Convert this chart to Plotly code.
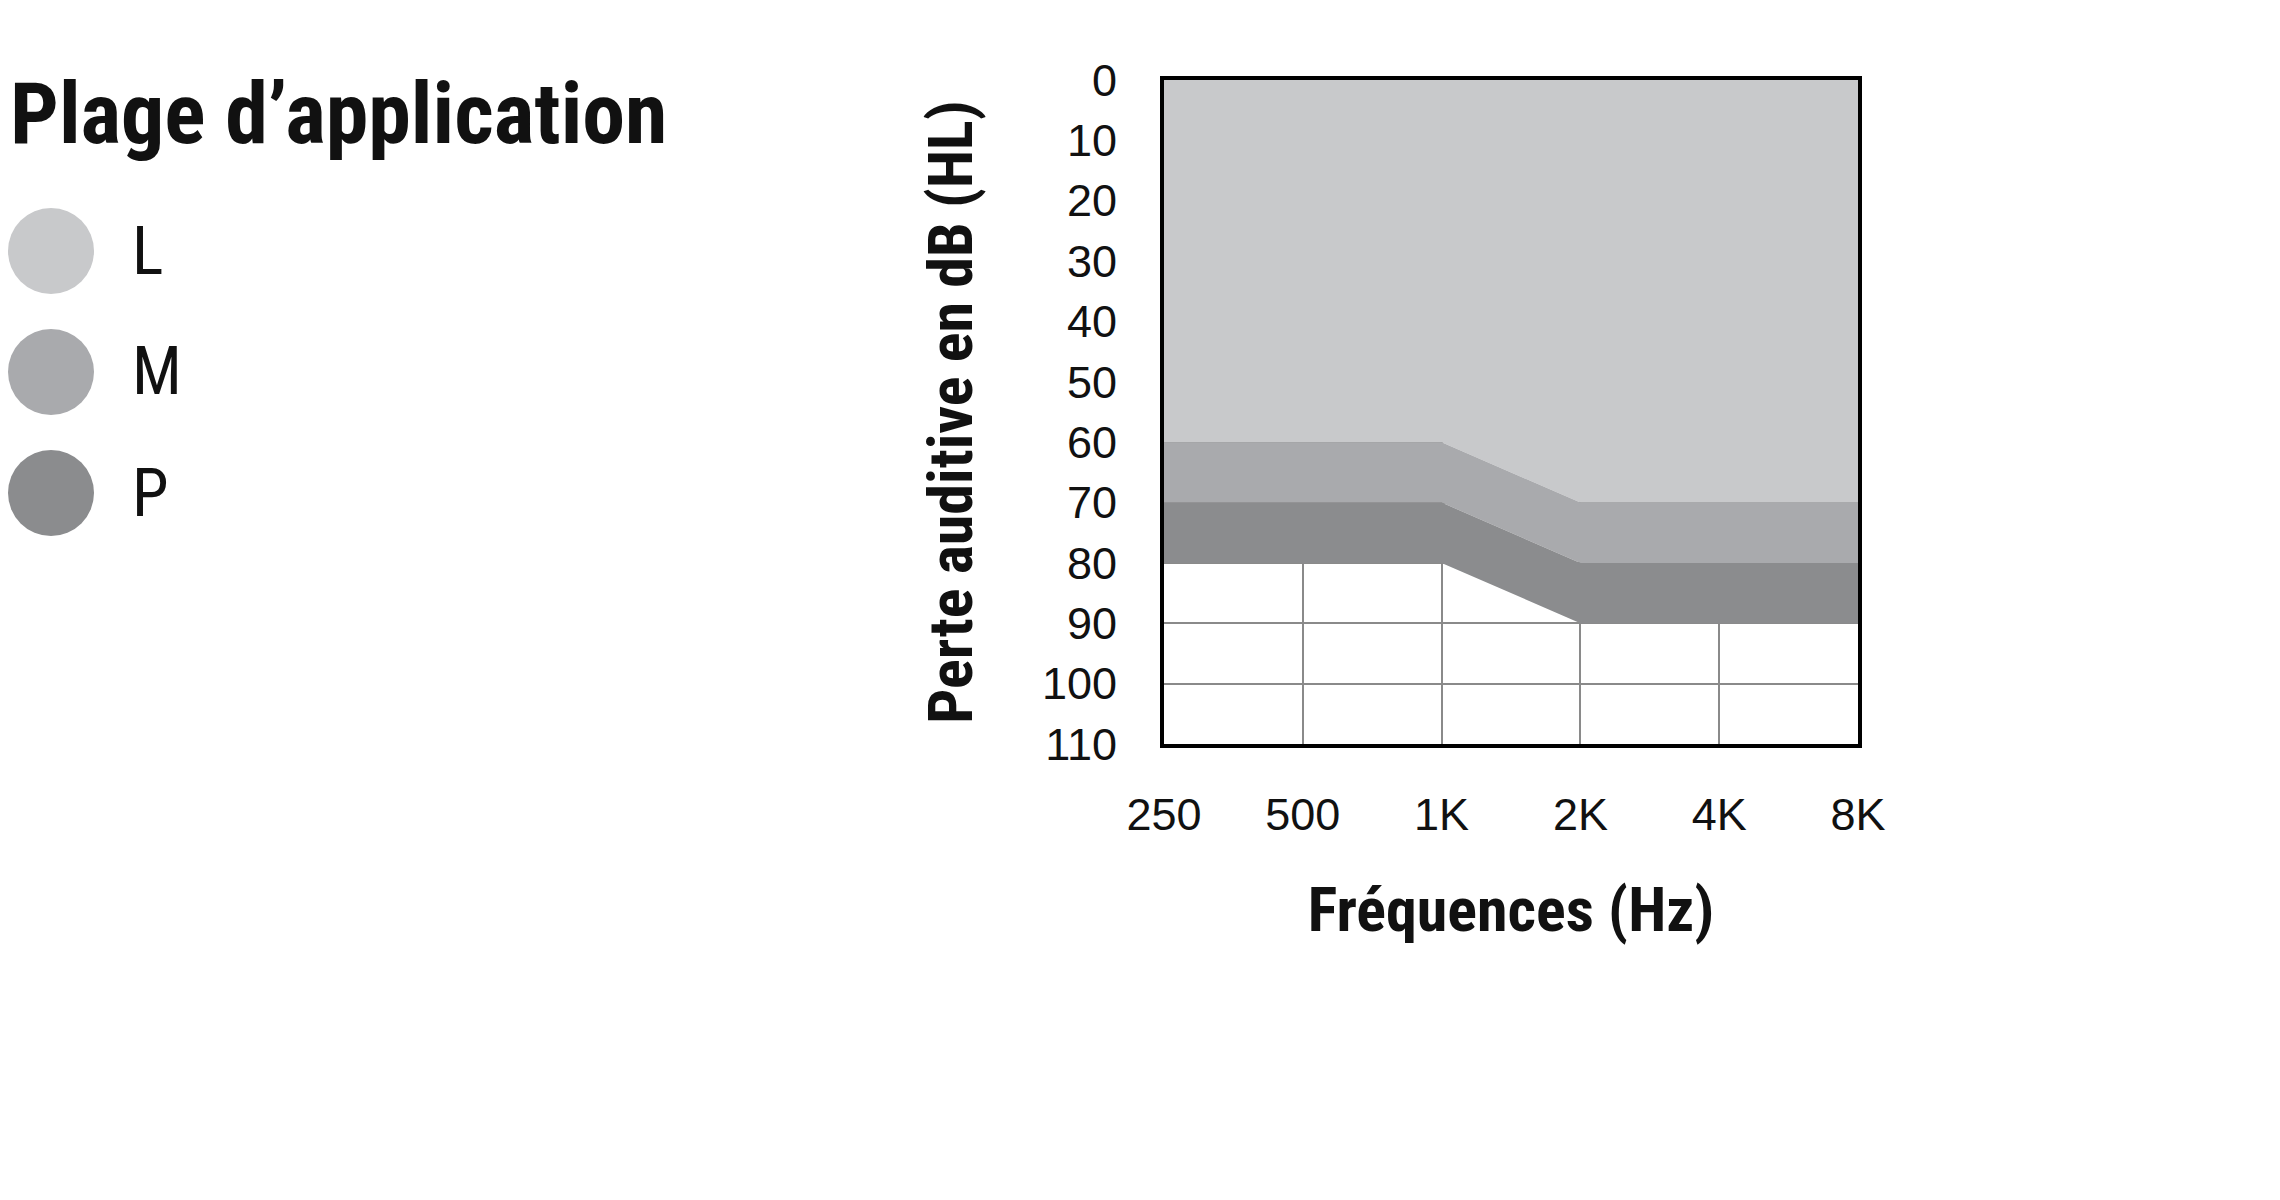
import plotly.graph_objects as go

freqs = ["250", "500", "1K", "2K", "4K", "8K"]
top_l = [0, 0, 0, 0, 0, 0]
bottom_l = [60, 60, 60, 70, 70, 70]
bottom_m = [70, 70, 70, 80, 80, 80]
bottom_p = [80, 80, 80, 90, 90, 90]
legend_names = ["L", "M", "P"]
colors = ["#c8c9cb", "#a9aaad", "#8b8c8e"]

x = list(range(len(freqs)))
W, H = 2280, 1200
L, R, T, B = 1156, 430, 72, 464
pw, ph = W - L - R, H - T - B

fig = go.Figure()
fig.add_trace(go.Scatter(x=x, y=top_l, mode="lines", line=dict(width=0), showlegend=False))
for ys, c in zip([bottom_l, bottom_m, bottom_p], colors):
    fig.add_trace(go.Scatter(x=x, y=ys, mode="lines", line=dict(width=0, color=c),
                             fill="tonexty", fillcolor=c, showlegend=False, hoverinfo="skip"))

font = "Liberation Sans"
cond = "Liberation Sans Narrow, Roboto Condensed, Liberation Sans"

def px2paper(px, py):
    return (px - L) / pw, 1 - (py - T) / ph

shapes, annots = [], []
for i, (name, c) in enumerate(zip(legend_names, colors)):
    cy = 243 + i * 121
    x0, y0 = px2paper(0, cy - 43)
    x1, y1 = px2paper(86, cy + 43)
    shapes.append(dict(type="circle", xref="paper", yref="paper", x0=x0, x1=x1, y0=y1, y1=y0,
                       fillcolor=c, line=dict(width=0)))
    ax, ay = px2paper(122, cy)
    annots.append(dict(text=name, xref="paper", yref="paper", x=ax, y=ay, xanchor="left",
                       yanchor="middle", showarrow=False, font=dict(family=cond, size=66, color="#111")))
tx, ty = px2paper(0, 106)
annots.append(dict(text="<b>Plage d’application</b>", xref="paper", yref="paper", x=tx, y=ty,
                   xanchor="left", yanchor="middle", showarrow=False,
                   font=dict(family=cond, size=86, color="#111")))

fig.update_layout(
    width=W, height=H, margin=dict(l=L, r=R, t=T, b=B),
    paper_bgcolor="white", plot_bgcolor="white",
    shapes=shapes, annotations=annots,
    xaxis=dict(tickvals=x, ticktext=freqs, range=[0, 5], showgrid=True, gridcolor="#8a8a8a",
               gridwidth=2, zeroline=False, showline=True, mirror=True, linecolor="black",
               linewidth=4, ticks="", ticklabelstandoff=28,
               tickfont=dict(family=font, size=45, color="#111"),
               title=dict(text="<b>Fréquences (Hz)</b>", standoff=50,
                          font=dict(family=cond, size=62, color="#111"))),
    yaxis=dict(range=[110, 0], tickvals=list(range(0, 120, 10)), showgrid=True,
               gridcolor="#8a8a8a", gridwidth=2, zeroline=False, showline=True, mirror=True,
               linecolor="black", linewidth=4, ticks="", ticklabelstandoff=34,
               tickfont=dict(family=font, size=45, color="#111"),
               title=dict(text="<b>Perte auditive en dB (HL)</b>", standoff=50,
                          font=dict(family=cond, size=62, color="#111"))),
)
fig.update_xaxes(layer="above traces")
fig.update_yaxes(layer="above traces")
fig.write_html("out.html")
